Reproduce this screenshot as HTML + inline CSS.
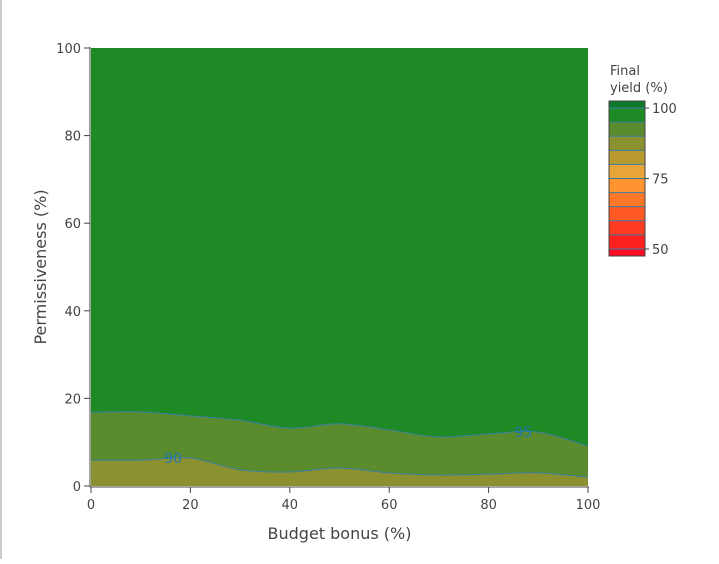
<!DOCTYPE html>
<html><head><meta charset="utf-8"><style>
body{margin:0;background:#fff;}
svg text{font-family:"DejaVu Sans","Liberation Sans",sans-serif;fill:#444;}
</style></head><body>
<svg id="chart" width="719" height="559">
<rect x="0" y="0" width="2" height="559" fill="#ccc"/>
<g id="plot"></g>
<g id="axes"></g>
<g id="cbar"></g>
</svg>
<script>
const xCats = [0,10,20,30,40,50,60,70,80,90,100];
const line95 = [16.8,16.9,16.0,15.0,13.2,14.2,12.8,11.2,11.9,12.3,9.1];
const line90 = [5.9,5.9,6.4,3.7,3.2,4.1,3.0,2.5,2.7,3.0,2.0];
const xTicks = [0,20,40,60,80,100];
const yTicks = [0,20,40,60,80,100];
const cbLevels = [50,55,60,65,70,75,80,85,90,95,100];
const cbTicks = [50,75,100];
const cbColors = ['#ff0a22','#ff2020','#ff3c22','#ff5a26','#ff7828','#ff9430','#e8a63a','#b89a30','#8c9130','#5a8c2e','#1e8a26','#0d7a2c'];

const NS='http://www.w3.org/2000/svg';
const X0=91,X1=588,Y0=486,Y1=48;
const sx=v=>X0+(v-0)/100*(X1-X0);
const sy=v=>Y0-(v-0)/100*(Y0-Y1);
function mk(tag,attrs,parent){const e=document.createElementNS(NS,tag);for(const k in attrs)e.setAttribute(k,attrs[k]);parent.appendChild(e);return e;}
function curve(vals){
  const p=xCats.map((x,i)=>[sx(x),sy(vals[i])]);
  let d='M'+p[0][0]+','+p[0][1];
  for(let i=0;i<p.length-1;i++){
    const p0=p[Math.max(0,i-1)],p1=p[i],p2=p[i+1],p3=p[Math.min(p.length-1,i+2)];
    const c1=[p1[0]+(p2[0]-p0[0])/6,p1[1]+(p2[1]-p0[1])/6];
    const c2=[p2[0]-(p3[0]-p1[0])/6,p2[1]-(p3[1]-p1[1])/6];
    d+=' C'+c1+' '+c2+' '+p2;
  }
  return d;
}
const plot=document.getElementById('plot');
let r=mk('rect',{x:X0,y:Y1,width:X1-X0,height:Y0-Y1,fill:'#1e8a26'},plot);


const c95=curve(line95),c90=curve(line90);
let a=mk('path',{d:c95+' L'+X1+','+Y0+' L'+X0+','+Y0+' Z',fill:'#5a8c2e'},plot);


let b=mk('path',{d:c90+' L'+X1+','+Y0+' L'+X0+','+Y0+' Z',fill:'#8c9130'},plot);


let l1=mk('path',{d:c95,fill:'none',stroke:'#3a7fa0','stroke-width':1},plot);


let l2=mk('path',{d:c90,fill:'none',stroke:'#3a7fa0','stroke-width':1},plot);


let t1=mk('text',{x:sx(87),y:sy(line95[9])+5,'text-anchor':'middle','font-size':14,style:'fill:#1f77b4'},plot);
t1.textContent='95';


let t2=mk('text',{x:sx(16.5),y:sy(line90[2])+5,'text-anchor':'middle','font-size':14,style:'fill:#1f77b4'},plot);
t2.textContent='90';



const ax=document.getElementById('axes');
mk('line',{x1:X0-1,y1:Y1-1,x2:X0-1,y2:Y0+1,stroke:'#444','stroke-width':1},ax);
mk('line',{x1:X0-1,y1:Y0+1,x2:X1+1,y2:Y0+1,stroke:'#444','stroke-width':1},ax);
xTicks.forEach(v=>{
  mk('line',{x1:sx(v),y1:Y0+1,x2:sx(v),y2:Y0+7,stroke:'#444'},ax);
  const t=mk('text',{x:sx(v),y:Y0+23,'text-anchor':'middle','font-size':13},ax);
  t.textContent=v;
  
  
});
yTicks.forEach(v=>{
  mk('line',{x1:X0-7,y1:sy(v),x2:X0-1,y2:sy(v),stroke:'#444'},ax);
  const t=mk('text',{x:X0-10,y:sy(v)+5,'text-anchor':'end','font-size':13},ax);
  t.textContent=v;
  
  
});
let xt=mk('text',{x:(X0+X1)/2,y:539,'text-anchor':'middle','font-size':16},ax);
xt.textContent='Budget bonus (%)';


let yt=mk('text',{x:0,y:0,'text-anchor':'middle','font-size':16,transform:'translate(46,'+((Y0+Y1)/2)+') rotate(-90)'},ax);
yt.textContent='Permissiveness (%)';



const cb=document.getElementById('cbar');
const CX=609,CW=36,CT=101,CB=256;
const vmin=47.5,vmax=102.5;
const cy=v=>CB-(v-vmin)/(vmax-vmin)*(CB-CT);
const edges=[vmin].concat(cbLevels).concat([vmax]);
for(let i=0;i<edges.length-1;i++){
  const rr=mk('rect',{x:CX,y:cy(edges[i+1]),width:CW,height:cy(edges[i])-cy(edges[i+1]),fill:cbColors[i]},cb);
  
  
}
cbLevels.forEach(v=>mk('line',{x1:CX,x2:CX+CW,y1:cy(v),y2:cy(v),stroke:'#3a7fa0','stroke-width':1},cb));
mk('rect',{x:CX,y:CT,width:CW,height:CB-CT,fill:'none',stroke:'#444','stroke-width':1},cb);
cbTicks.forEach(v=>{
  mk('line',{x1:CX+CW,x2:CX+CW+4,y1:cy(v),y2:cy(v),stroke:'#444'},cb);
  const t=mk('text',{x:CX+CW+7,y:cy(v)+5,'font-size':13},cb);
  t.textContent=v;
  
  
});
let ct1=mk('text',{x:610,y:75,'font-size':13},cb);ct1.textContent='Final';


let ct2=mk('text',{x:610,y:92,'font-size':13},cb);ct2.textContent='yield (%)';


</script>
</body></html>
